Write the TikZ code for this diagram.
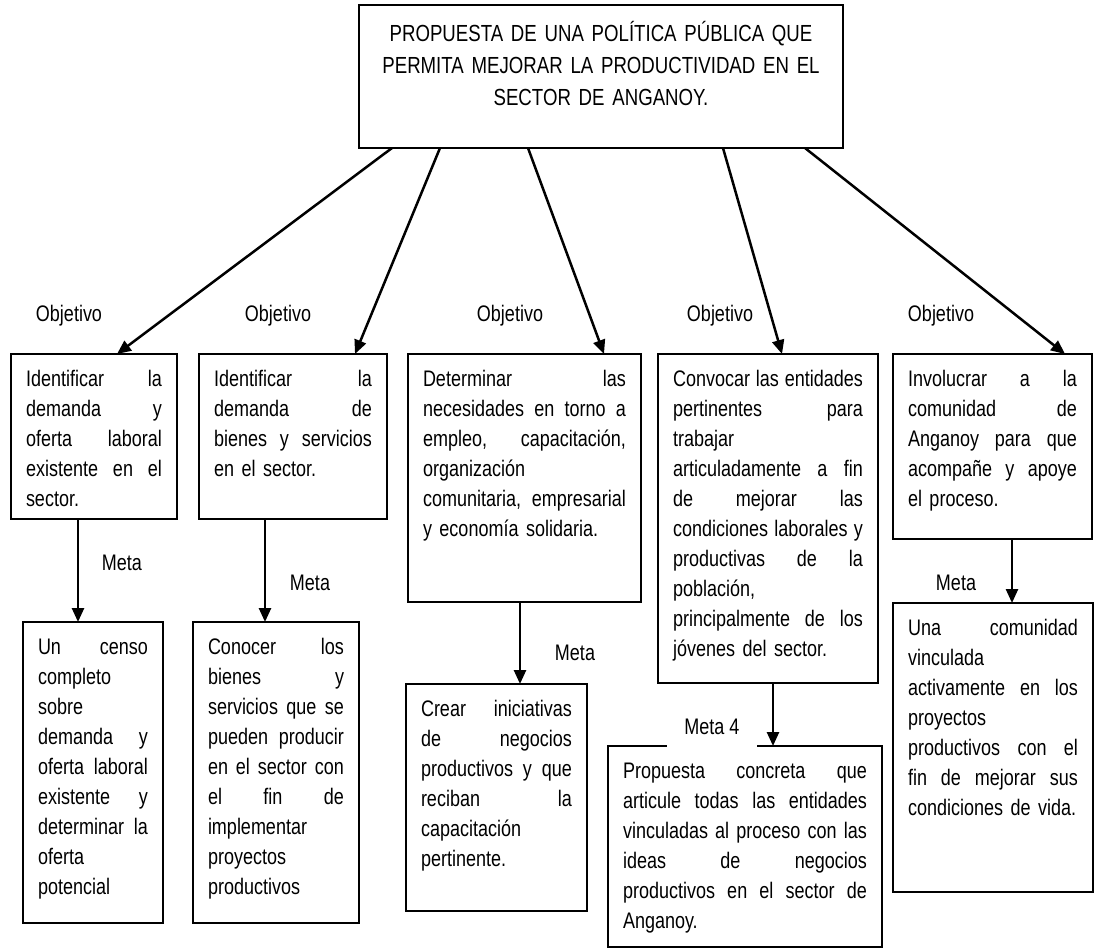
\documentclass[tikz,border=0pt]{standalone}
\usepackage{fontspec}
\setmainfont{Liberation Sans}[FakeStretch=0.80]
\usetikzlibrary{arrows.meta,calc}
\newcommand{\jl}[1]{\leavevmode\hbox to \linewidth{\spaceskip=\fontdimen2\font plus 1fil minus \fontdimen4\font\relax #1}}
\begin{document}
\begin{tikzpicture}[x=1pt,y=-1pt,
  box/.style={draw, line width=2.5pt, anchor=north west, outer sep=0pt,
    inner xsep=15pt, inner ysep=0pt, align=left,
    font=\fontsize{22.5}{30}\selectfont, text height=32pt},
  lbl/.style={font=\fontsize{22.5}{30}\selectfont, inner sep=0pt},
  arr/.style={-{Triangle[length=14pt,width=12pt]}, line width=2.5pt}]
\useasboundingbox (0,0) rectangle (1096,948);

% title
\node[box, align=center, text width=454pt, text depth=107pt, text height=36pt,
  font=\fontsize{23.3}{32}\selectfont] (top) at (359,5)
  {PROPUESTA DE UNA POLÍTICA PÚBLICA QUE\\PERMITA MEJORAR LA PRODUCTIVIDAD EN EL\\SECTOR DE ANGANOY.};

% objectives
\node[box, text width=136pt, text depth=133pt] (b1) at (11,354)
  {\jl{Identificar la}\\\jl{demanda y}\\\jl{oferta laboral}\\\jl{existente en el}\\sector.};
\node[box, text width=158pt, text depth=133pt] (b2) at (199,354)
  {\jl{Identificar la}\\\jl{demanda de}\\\jl{bienes y servicios}\\\mbox{en el sector.}};
\node[box, text width=203pt, text depth=216pt] (b3) at (408,354)
  {\jl{Determinar las}\\\jl{necesidades en torno a}\\\jl{empleo, capacitación,}\\organización\\\jl{comunitaria, empresarial}\\\mbox{y economía solidaria.}};
\node[box, text width=190pt, text depth=297pt] (b4) at (658,354)
  {\jl{Convocar las entidades}\\\jl{pertinentes para}\\trabajar\\\jl{articuladamente a fin}\\\jl{de mejorar las}\\\jl{condiciones laborales y}\\\jl{productivas de la}\\población,\\\jl{principalmente de los}\\\mbox{jóvenes del sector.}};
\node[box, text width=169pt, text depth=153pt] (b5) at (893,354)
  {\jl{Involucrar a la}\\\jl{comunidad de}\\\jl{Anganoy para que}\\\jl{acompañe y apoye}\\\mbox{el proceso.}};

% goals
\node[box, text width=110pt, text depth=269pt] (b6) at (23,622)
  {\jl{Un censo}\\completo\\sobre\\\jl{demanda y}\\\jl{oferta laboral}\\\jl{existente y}\\\jl{determinar la}\\oferta\\potencial};
\node[box, text width=136pt, text depth=269pt] (b7) at (193,622)
  {\jl{Conocer los}\\\jl{bienes y}\\\jl{servicios que se}\\\jl{pueden producir}\\\jl{en el sector con}\\\jl{el fin de}\\implementar\\proyectos\\productivos};
\node[box, text width=151pt, text depth=195pt] (b8) at (406,684)
  {\jl{Crear iniciativas}\\\jl{de negocios}\\\jl{productivos y que}\\\jl{reciban la}\\capacitación\\pertinente.};
\node[box, text width=244pt, text depth=169pt] (b9) at (608,746)
  {\jl{Propuesta concreta que}\\\jl{articule todas las entidades}\\\jl{vinculadas al proceso con las}\\\jl{ideas de negocios}\\\jl{productivos en el sector de}\\Anganoy.};
\node[box, text width=170pt, text depth=257pt] (b10) at (893,603)
  {\jl{Una comunidad}\\vinculada\\\jl{activamente en los}\\proyectos\\\jl{productivos con el}\\\jl{fin de mejorar sus}\\\mbox{condiciones de vida.}};

% labels
\node[lbl] (o1) at (69,316) {Objetivo};
\node[lbl] (o2) at (278,316) {Objetivo};
\node[lbl] (o3) at (510,316) {Objetivo};
\node[lbl] (o4) at (720,316) {Objetivo};
\node[lbl] (o5) at (941,316) {Objetivo};
\node[lbl] (m1) at (122,563) {Meta};
\node[lbl] (m2) at (310,583) {Meta};
\node[lbl] (m3) at (575,653) {Meta};
\node[lbl] (m5) at (956,583) {Meta};
\node[lbl, fill=white, minimum width=90pt, minimum height=46pt] (m4) at (712,727) {Meta 4};

% arrows from title
\draw[arr] ($(top.south west)+(33,0)$) -- ($(b1.north west)+(106,0)$);
\draw[arr] ($(top.south west)+(81,0)$) -- ($(b2.north west)+(156,0)$);
\draw[arr] ($(top.south west)+(169,0)$) -- ($(b3.north west)+(196,0)$);
\draw[arr] ($(top.south west)+(364,0)$) -- ($(b4.north west)+(124,0)$);
\draw[arr] ($(top.south west)+(446,0)$) -- ($(b5.north west)+(172,0)$);

% arrows objective -> goal
\path (b1.south west) ++(67,0) coordinate (p1);
\path (b2.south west) ++(66,0) coordinate (p2);
\path (b3.south west) ++(112,0) coordinate (p3);
\path (b4.south west) ++(115,0) coordinate (p4);
\path (b5.south west) ++(119,0) coordinate (p5);
\draw[arr] (p1) -- (p1 |- b6.north);
\draw[arr] (p2) -- (p2 |- b7.north);
\draw[arr] (p3) -- (p3 |- b8.north);
\draw[arr] (p4) -- (p4 |- b9.north);
\draw[arr] (p5) -- (p5 |- b10.north);
\end{tikzpicture}
\end{document}
